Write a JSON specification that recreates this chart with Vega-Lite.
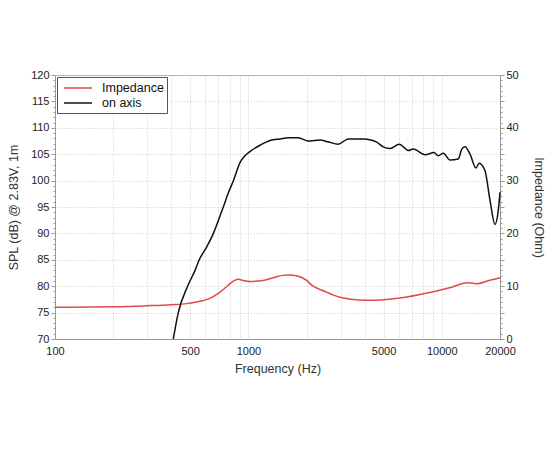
{
  "$schema": "https://vega.github.io/schema/vega-lite/v6.json",
  "width": 445,
  "height": 264,
  "autosize": "none",
  "padding": {"left": 55, "top": 75, "right": 50, "bottom": 111},
  "config": {
    "font": "Liberation Sans",
    "view": {"stroke": "#aaaaaa", "strokeWidth": 1},
    "axis": {
      "domainColor": "#999999",
      "tickColor": "#999999",
      "labelColor": "#222222",
      "labelFontSize": 11,
      "titleFontSize": 12.5,
      "titleFontWeight": "normal",
      "titleColor": "#333333",
      "gridColor": "#c8c8c8",
      "gridDash": [1, 2],
      "gridWidth": 1
    }
  },
  "datasets": {
    "spl": [
      {"freq": 409, "spl": 70},
      {"freq": 434, "spl": 75},
      {"freq": 485, "spl": 80},
      {"freq": 530, "spl": 83},
      {"freq": 557, "spl": 85},
      {"freq": 610, "spl": 87.5},
      {"freq": 659, "spl": 90},
      {"freq": 700, "spl": 92.5},
      {"freq": 742, "spl": 95},
      {"freq": 790, "spl": 97.8},
      {"freq": 837, "spl": 100},
      {"freq": 905, "spl": 103.4},
      {"freq": 960, "spl": 104.7},
      {"freq": 1018, "spl": 105.5},
      {"freq": 1148, "spl": 106.7},
      {"freq": 1293, "spl": 107.6},
      {"freq": 1460, "spl": 107.9},
      {"freq": 1609, "spl": 108.1},
      {"freq": 1811, "spl": 108.1},
      {"freq": 2040, "spl": 107.5},
      {"freq": 2345, "spl": 107.7},
      {"freq": 2600, "spl": 107.3},
      {"freq": 2917, "spl": 106.9},
      {"freq": 3287, "spl": 107.9},
      {"freq": 3927, "spl": 107.9},
      {"freq": 4300, "spl": 107.7},
      {"freq": 4607, "spl": 107.3},
      {"freq": 4982, "spl": 106.4},
      {"freq": 5400, "spl": 106.1},
      {"freq": 6030, "spl": 106.9},
      {"freq": 6713, "spl": 105.7},
      {"freq": 7126, "spl": 106.0},
      {"freq": 8188, "spl": 104.9},
      {"freq": 9118, "spl": 105.3},
      {"freq": 9590, "spl": 104.7},
      {"freq": 10180, "spl": 105.2},
      {"freq": 11030, "spl": 103.9},
      {"freq": 12170, "spl": 104.1},
      {"freq": 12670, "spl": 105.9},
      {"freq": 13180, "spl": 106.4},
      {"freq": 14000, "spl": 105.0},
      {"freq": 15030, "spl": 102.4},
      {"freq": 15600, "spl": 103.3},
      {"freq": 16720, "spl": 101.9},
      {"freq": 17750, "spl": 96.3},
      {"freq": 18840, "spl": 91.7},
      {"freq": 19600, "spl": 94.4},
      {"freq": 20000, "spl": 97.8}
    ],
    "imp": [
      {"freq": 100, "ohm": 6.0},
      {"freq": 200, "ohm": 6.1},
      {"freq": 300, "ohm": 6.3},
      {"freq": 400, "ohm": 6.5},
      {"freq": 479, "ohm": 6.7},
      {"freq": 530, "ohm": 6.95},
      {"freq": 585, "ohm": 7.3},
      {"freq": 640, "ohm": 7.8},
      {"freq": 699, "ohm": 8.65},
      {"freq": 760, "ohm": 9.7},
      {"freq": 803, "ohm": 10.5},
      {"freq": 850, "ohm": 11.1},
      {"freq": 887, "ohm": 11.3},
      {"freq": 940, "ohm": 11.1},
      {"freq": 1018, "ohm": 10.9},
      {"freq": 1193, "ohm": 11.1},
      {"freq": 1373, "ohm": 11.7},
      {"freq": 1500, "ohm": 12.05},
      {"freq": 1609, "ohm": 12.1},
      {"freq": 1811, "ohm": 11.9},
      {"freq": 2000, "ohm": 11.1},
      {"freq": 2125, "ohm": 10.2},
      {"freq": 2488, "ohm": 9.0},
      {"freq": 2976, "ohm": 7.9},
      {"freq": 3700, "ohm": 7.4},
      {"freq": 4513, "ohm": 7.35},
      {"freq": 6204, "ohm": 7.8},
      {"freq": 8518, "ohm": 8.75},
      {"freq": 11250, "ohm": 9.8},
      {"freq": 13180, "ohm": 10.6},
      {"freq": 13990, "ohm": 10.65},
      {"freq": 15150, "ohm": 10.45},
      {"freq": 17400, "ohm": 11.05},
      {"freq": 20000, "ohm": 11.6}
    ]
  },
  "layer": [
    {
      "data": {"name": "imp"},
      "mark": {"type": "line", "strokeWidth": 1.5, "interpolate": "monotone"},
      "encoding": {
        "x": {
          "field": "freq",
          "type": "quantitative",
          "scale": {"type": "log", "domain": [100, 20000], "nice": false},
          "axis": {
            "title": "Frequency (Hz)",
            "values": [100, 200, 300, 400, 500, 600, 700, 800, 900, 1000, 2000, 3000, 4000, 5000, 6000, 7000, 8000, 9000, 10000, 20000],
            "labelExpr": "indexof([100,500,1000,5000,10000,20000], datum.value) >= 0 ? datum.value : ''",
            "ticks": false,
            "labelPadding": 6,
            "labelFlush": false,
            "labelOverlap": false,
            "grid": true,
            "titlePadding": 6
          }
        },
        "y": {
          "field": "ohm",
          "type": "quantitative",
          "scale": {"domain": [0, 50], "nice": false},
          "axis": {
            "orient": "right",
            "title": "Impedance (Ohm)",
            "values": [0,1,2,3,4,5,6,7,8,9,10,11,12,13,14,15,16,17,18,19,20,21,22,23,24,25,26,27,28,29,30,31,32,33,34,35,36,37,38,39,40,41,42,43,44,45,46,47,48,49,50],
            "labelExpr": "datum.value % 10 === 0 ? datum.value : ''",
            "tickSize": {"condition": {"test": "datum.value % 5 === 0", "value": 4}, "value": 2},
            "labelPadding": 2,
            "labelOverlap": false,
            "grid": false,
            "titlePadding": 13
          }
        },
        "color": {
          "datum": "Impedance",
          "type": "nominal",
          "scale": {"domain": ["Impedance", "on axis"], "range": ["#df4b45", "#111111"]},
          "legend": {
            "orient": "top-left",
            "offset": 2,
            "title": null,
            "strokeColor": "#555555",
            "fillColor": "white",
            "padding": 3,
            "symbolType": "M-2,0H2",
            "symbolSize": 196,
            "symbolOffset": 10,
            "symbolStrokeWidth": 1.5,
            "labelFontSize": 12.5,
            "labelColor": "#111111",
            "labelOffset": 16,
            "rowPadding": 0
          }
        }
      }
    },
    {
      "data": {"name": "spl"},
      "mark": {"type": "line", "strokeWidth": 1.5, "interpolate": "monotone"},
      "encoding": {
        "x": {"field": "freq", "type": "quantitative"},
        "y": {
          "field": "spl",
          "type": "quantitative",
          "scale": {"domain": [70, 120], "nice": false},
          "axis": {
            "orient": "left",
            "title": "SPL (dB) @ 2.83V, 1m",
            "values": [70,71,72,73,74,75,76,77,78,79,80,81,82,83,84,85,86,87,88,89,90,91,92,93,94,95,96,97,98,99,100,101,102,103,104,105,106,107,108,109,110,111,112,113,114,115,116,117,118,119,120],
            "labelExpr": "datum.value % 5 === 0 ? datum.value : ''",
            "tickSize": {"condition": {"test": "datum.value % 5 === 0", "value": 4}, "value": 2},
            "gridOpacity": {"condition": {"test": "datum.value % 5 === 0", "value": 1}, "value": 0},
            "labelPadding": 2,
            "labelOverlap": false,
            "grid": true,
            "titlePadding": 10
          }
        },
        "color": {"datum": "on axis", "type": "nominal"}
      }
    }
  ],
  "resolve": {"scale": {"y": "independent"}}
}
